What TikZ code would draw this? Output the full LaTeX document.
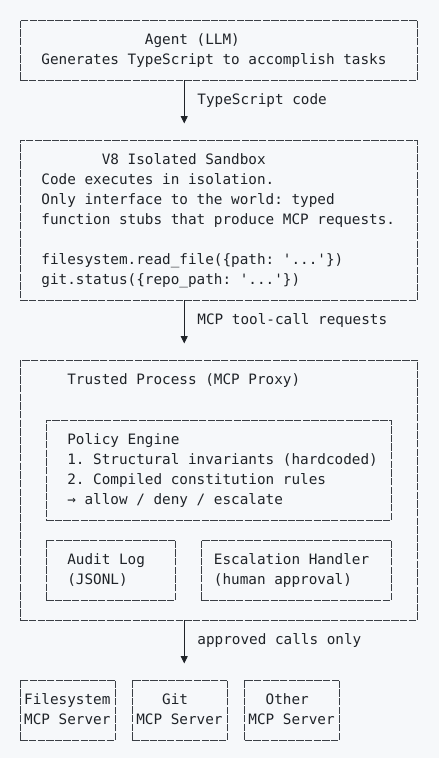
\documentclass[tikz,border=0pt]{standalone}
\usepackage{fontspec}
\usetikzlibrary{arrows.meta}

\newfontfamily\monofam{DejaVu Sans Mono}
\definecolor{fondo}{HTML}{F6F8FA}
\definecolor{tinta}{HTML}{1F2328}
\definecolor{borde}{HTML}{3A3F45}

\newcommand{\codefont}{\monofam\fontsize{14.33pt}{20pt}\selectfont\frenchspacing}
\newcommand{\rowstrut}{\rule[-5.7pt]{0pt}{20pt}}
\newcommand{\boxline}[2]{\hspace*{#1\cw}#2\rowstrut}
\newcommand{\q}{\textquotesingle}
\newlength{\cw}
\settowidth{\cw}{\codefont M}

\tikzset{
	caja/.style={draw=borde, line width=0.9pt, dash pattern=on 7.4pt off 1.23pt, outer sep=0pt,
		inner xsep=0.5*\cw-0.5pt, inner ysep=10pt, align=flush left, font=\codefont, text=tinta},
	ancho/.style={text width=#1*\cw+1pt},
	etiqueta/.style={anchor=west, inner sep=0pt, font=\codefont, text=tinta},
	flujo/.style={draw=tinta, line width=0.9pt, shorten >=16.5pt,
		-{Bar[width=0pt,sep=6.5pt,color=fondo]Triangle[length=7.5pt,width=7pt]}}
}

\begin{document}
\begin{tikzpicture}[x=\cw, y=-20pt]
	% Fondo
		\fill[fondo] (-16pt,20pt) rectangle (423pt,-738pt);
		\coordinate (eje) at (19.5,0);

	% Agente
		\node[caja, ancho=45] (agent) at (23.5,1.5)
			{\boxline{14}{Agent (LLM)}\\
			 \boxline{2}{Generates TypeScript to accomplish tasks}};

	% Sandbox
		\node[caja, ancho=45] (sandbox) at (23.5,10)
			{\boxline{9}{V8 Isolated Sandbox}\\
			 \boxline{2}{Code executes in isolation.}\\
			 \boxline{2}{Only interface to the world: typed}\\
			 \boxline{2}{function stubs that produce MCP requests.}\\
			 \rowstrut\\
			 \boxline{2}{filesystem.read\_file(\{path: \q...\q\})}\\
			 \boxline{2}{git.status(\{repo\_path: \q...\q\})}};

	% Proceso de confianza
		\node[caja, ancho=45, text depth=225.7pt] (proxy) at (23.5,23.5)
			{\boxline{5}{Trusted Process (MCP Proxy)}};
		% Motor de politicas
			\node[caja, ancho=39] (policy) at (23.5,22.5)
				{\boxline{2}{Policy Engine}\\
				 \boxline{2}{1. Structural invariants (hardcoded)}\\
				 \boxline{2}{2. Compiled constitution rules}\\
				 \boxline{2}{→ allow / deny / escalate}};
		% Registro y escalado
			\node[caja, ancho=14] (audit) at (11,27.5)
				{\boxline{2}{Audit Log}\\ \boxline{2}{(JSONL)}};
			\node[caja, ancho=21] (escal) at (32.5,27.5)
				{\boxline{1}{Escalation Handler}\\ \boxline{1}{(human approval)}};

	% Servidores MCP
		\node[caja, ancho=10] (fs) at (6,34.5)
			{\boxline{0}{Filesystem}\\ \boxline{0}{MCP Server}};
		\node[caja, ancho=10] (git) at (19,34.5)
			{\boxline{3}{Git}\\ \boxline{0}{MCP Server}};
		\node[caja, ancho=10] (other) at (32,34.5)
			{\boxline{2}{Other}\\ \boxline{0}{MCP Server}};

	% Flechas
		\draw[flujo] (agent.south -| eje) -- (sandbox.north -| eje);
		\node[etiqueta] (tscode) at (21,4) {TypeScript code\rowstrut};

		\draw[flujo] (sandbox.south -| eje) -- (proxy.north -| eje);
		\node[etiqueta] (mcpreq) at (21,15) {MCP tool-call requests\rowstrut};

		\draw[flujo] (proxy.south -| eje) -- (git.north -| eje);
		\node[etiqueta] (approved) at (21,31) {approved calls only\rowstrut};
\end{tikzpicture}
\end{document}
